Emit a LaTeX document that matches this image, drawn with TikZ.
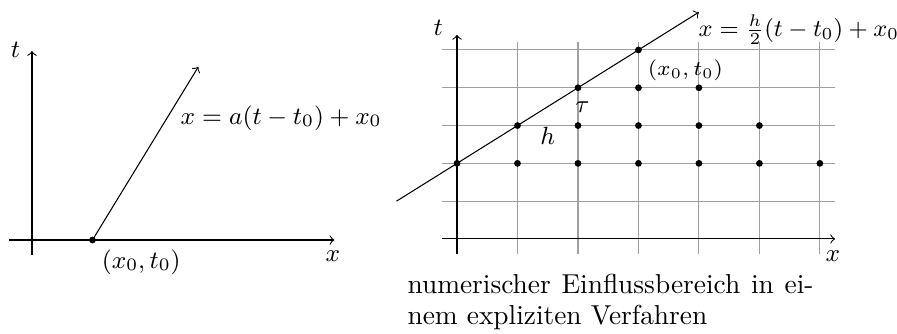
\RequirePackage{fix-cm}
\documentclass[tikz,border=0pt]{standalone}
\tikzset{
  axis/.style={->},
  gridline/.style={gray!75, line width=0.4pt},
  pt/.style={fill=black, draw=none},
  lbl/.style={inner sep=0pt},
  mathlbl/.style={font=\fontsize{9.35}{11}\selectfont},
  eqlbl/.style={font=\fontsize{9.05}{11}\selectfont},
  smalllbl/.style={font=\fontsize{7.9}{9.5}\selectfont},
  captext/.style={inner sep=0pt, font=\fontsize{10.3}{12.4}\selectfont},
}
\begin{document}
\begin{tikzpicture}
\useasboundingbox (0,0) rectangle (11.865,4.418);
% ---------- left picture ----------
\begin{scope}[shift={(0.423,1.243)}]
  \coordinate (LxS) at (-0.3,0);
  \coordinate (LxE) at (4,0);
  \coordinate (LtS) at (0,-0.2);
  \coordinate (LtE) at (0,2.5);
  \coordinate (P0) at (0.8,0);
  \coordinate (Pend) at (2.2,2.29);
  \draw[axis] (LxS) -- (LxE);
  \draw[axis] (LtS) -- (LtE);
  \draw[->] (P0) -- (Pend);
  \fill[pt] (P0) circle (0.045);
  \node[lbl, mathlbl] (Lt) at (-0.218,2.51) {$t$};
  \node[lbl, mathlbl] (Lx) at (3.98,-0.21) {$x$};
  \node[mathlbl, below right] (Lp) at (P0) {$(x_0,t_0)$};
  \node[lbl, mathlbl, anchor=base west] (Leq) at (1.958,1.534) {$x=a(t-t_0)+x_0$};
\end{scope}
% ---------- right picture ----------
\begin{scope}[shift={(6.045,1.257)}]
  \draw[gridline, xstep=0.8, ystep=0.5] (-0.2,-0.2) grid (5,2.6);
  \coordinate (RxS) at (-0.2,0);
  \coordinate (RxE) at (5,0);
  \coordinate (RtS) at (0,-0.2);
  \coordinate (RtE) at (0,2.7);
  \draw[axis] (RxS) -- (RxE);
  \draw[axis] (RtS) -- (RtE);
  \coordinate (Ls) at (-0.8,0.5);
  \coordinate (Le) at (3.2,3.0);
  \draw[->] (Ls) -- (Le);
  \foreach \i in {0,...,6} \fill[pt] (0.8*\i,1) circle (0.045);
  \foreach \i in {1,...,5} \fill[pt] (0.8*\i,1.5) circle (0.045);
  \foreach \i in {2,...,4} \fill[pt] (0.8*\i,2) circle (0.045);
  \fill[pt] (2.4,2.5) circle (0.045);
  \node[lbl, mathlbl] (Rt) at (-0.25,2.79) {$t$};
  \node[lbl, mathlbl] (Rx) at (4.97,-0.23) {$x$};
  \node[lbl, eqlbl, anchor=west] (Req) at (3.19,2.765) {$x=\frac{h}{2}(t-t_0)+x_0$};
  \node[smalllbl, below right] (Rp) at (2.4,2.5) {$(x_0,t_0)$};
  \node[lbl, mathlbl] (tau) at (1.66,1.75) {$\tau$};
  \node[lbl, mathlbl] (hh) at (1.2,1.36) {$h$};
\end{scope}
% ---------- caption ----------
\node[captext, anchor=base west] (cap1) at (5.384,0.542) {\makebox[5.37cm][s]{numerischer Einflussbereich in ei-}};
\node[captext, anchor=base west] (cap2) at (5.384,0.132) {nem expliziten Verfahren};
\end{tikzpicture}
\end{document}
